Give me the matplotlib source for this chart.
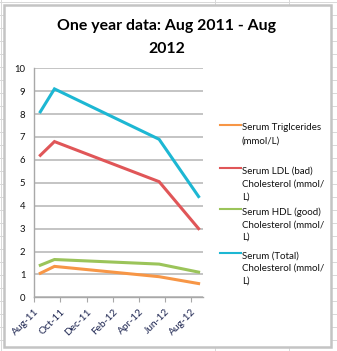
import datetime as dt

import matplotlib
matplotlib.use("Agg")
import matplotlib.pyplot as plt
import matplotlib.dates as mdates
from matplotlib.lines import Line2D
from matplotlib.patches import Rectangle

# data
dates = [dt.date(2011, 8, 15), dt.date(2011, 9, 17), dt.date(2012, 5, 18), dt.date(2012, 8, 18)]
triglycerides = [1.05, 1.35, 0.9, 0.6]
ldl = [6.2, 6.8, 5.05, 3.0]
hdl = [1.4, 1.65, 1.45, 1.1]
total = [8.1, 9.1, 6.9, 4.4]

series_names = ["Serum Triglcerides\n(mmol/L)",
                "Serum LDL (bad)\nCholesterol (mmol/\nL)",
                "Serum HDL (good)\nCholesterol (mmol/\nL)",
                "Serum (Total)\nCholesterol (mmol/\nL)"]
series_values = [triglycerides, ldl, hdl, total]
colors = ["#F79646", "#E05658", "#9BC45A", "#1DB7D3"]

W, H = 337, 351
fig = plt.figure(figsize=(W / 100, H / 100), dpi=100)
plt.rcParams['font.family'] = ['Lato', 'DejaVu Sans']


def fx(px):
    return px / W


def fy(py):
    return 1 - py / H


# spreadsheet cells behind the chart
for k in range(28):
    y = 1.7 + 13 * k
    fig.add_artist(Line2D([0, 1], [fy(y), fy(y)], color="#d8d8d8", lw=0.7, zorder=-3))
for x in [1, 215, 289]:
    fig.add_artist(Line2D([fx(x), fx(x)], [0, 1], color="#d8d8d8", lw=0.7, zorder=-3))

# chart area
fig.add_artist(Rectangle((fx(3.5), fy(346.5)), fx(327), 341.8 / H,
                         facecolor="white", edgecolor="#c4c4c4", lw=1.8, zorder=-2))

ax = fig.add_axes([fx(34.3), fy(297.3), fx(169), (297.3 - 68.3) / H])
ax.set_facecolor("none")

for vals, c in zip(series_values, colors):
    ax.plot(dates, vals, color=c, lw=2.2, solid_joinstyle="miter")

ax.set_ylim(0, 10)
ax.set_yticks(range(0, 11))
ax.set_xlim(dt.date(2011, 8, 1), dt.date(2012, 8, 29))
ax.xaxis.set_major_locator(mdates.MonthLocator(bymonth=[2, 4, 6, 8, 10, 12]))
ax.xaxis.set_major_formatter(mdates.DateFormatter("%b-%y"))
ax.grid(axis="y", color="#b4b4b4", lw=1.1)
ax.set_axisbelow(True)
for s in ["top", "right"]:
    ax.spines[s].set_visible(False)
for s in ["left", "bottom"]:
    ax.spines[s].set_color("#a8a8a8")
    ax.spines[s].set_linewidth(1.0)
ax.tick_params(axis="y", length=0, pad=6.5, labelsize=6.8, labelcolor="#111111")
ax.tick_params(axis="x", length=3.5, width=0.8, color="#a8a8a8", pad=3.5,
               labelsize=7.3, labelcolor="#1c2450")
for lab in ax.get_xticklabels():
    lab.set_rotation(45)
    lab.set_ha("right")
    lab.set_rotation_mode("anchor")

# title
fig.text(fx(166.5), fy(30), "One year data: Aug 2011 - Aug", ha="center", va="baseline",
         fontsize=11.4, fontweight="bold")
fig.text(fx(166.5), fy(52.7), "2012", ha="center", va="baseline",
         fontsize=11.4, fontweight="bold")

# legend
handle_y = [125, 168.3, 209, 252.7]
for name, c, hy in zip(series_names, colors, handle_y):
    fig.add_artist(Line2D([fx(220), fx(241)], [fy(hy), fy(hy)], color=c, lw=1.5))
    for i, line in enumerate(name.split("\n")):
        fig.text(fx(242), fy(hy + 5.5 + 12.7 * i), line, ha="left", va="baseline",
                 fontsize=7, color="#111111")

fig.savefig("out.png", dpi=100)
